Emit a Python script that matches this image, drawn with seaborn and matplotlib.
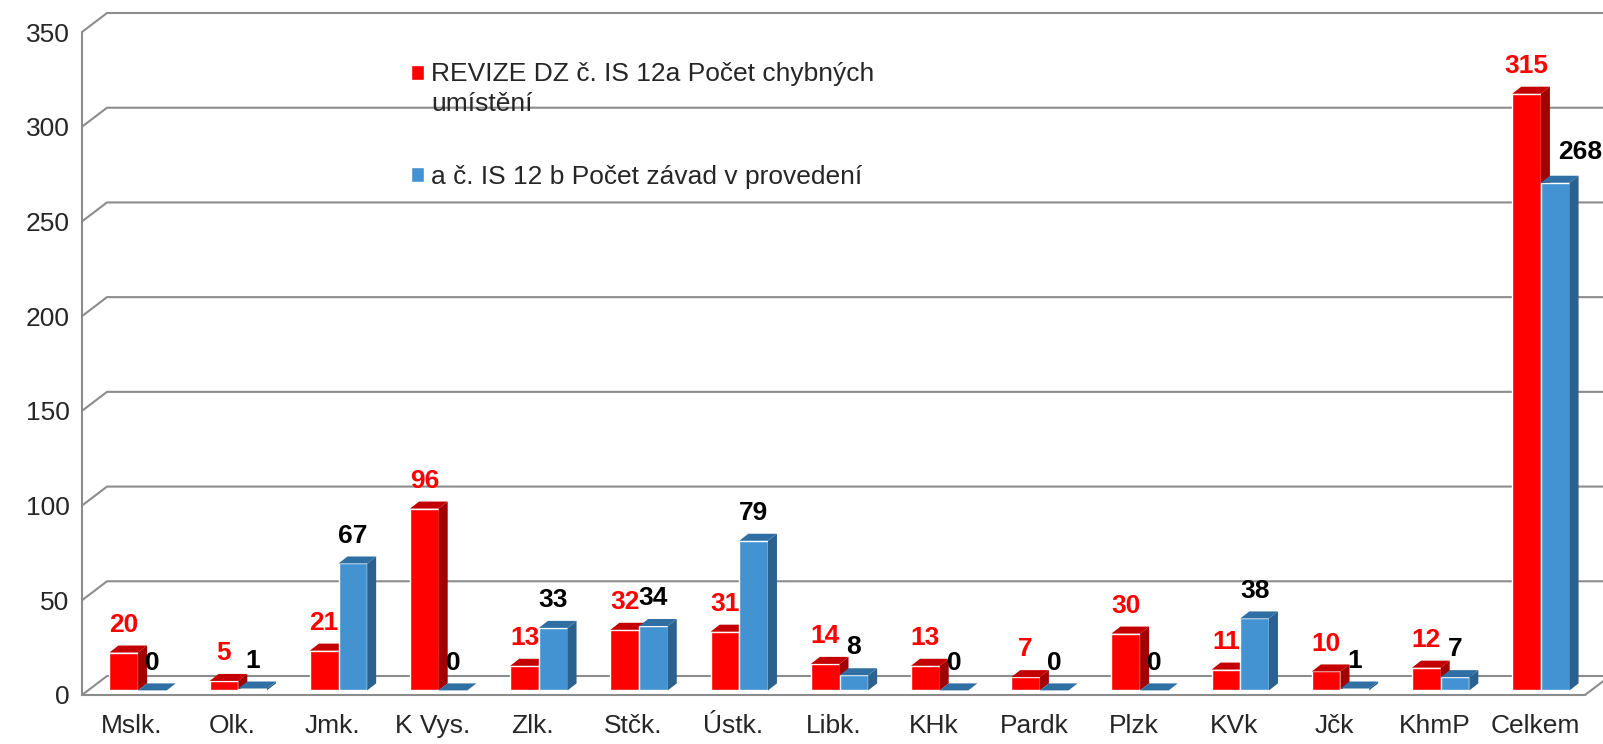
#!/usr/bin/env python3
"""
Revize DZ: počet chybných umístění a počet závad v provedení podle krajů.
Sloupcový graf s napodobeným 3D vzhledem (stěny, boční a horní plochy sloupců).
"""

import matplotlib
matplotlib.use("Agg")
import pandas as pd
import matplotlib.pyplot as plt
import seaborn as sns
from matplotlib.patches import Polygon, Patch, Rectangle
from matplotlib.legend_handler import HandlerPatch

# Data
kraje = ["Mslk.", "Olk.", "Jmk.", "K Vys.", "Zlk.", "Stčk.", "Ústk.", "Libk.",
         "KHk", "Pardk", "Plzk", "KVk", "Jčk", "KhmP", "Celkem"]
chybna_umisteni = [20, 5, 21, 96, 13, 32, 31, 14, 13, 7, 30, 11, 10, 12, 315]
zavady_provedeni = [0, 1, 67, 0, 33, 34, 79, 8, 0, 0, 0, 38, 1, 7, 268]
serie = ["REVIZE DZ č. IS 12a Počet chybných\numístění",
         "a č. IS 12 b Počet závad v provedení"]
y_ticks = [0, 50, 100, 150, 200, 250, 300, 350]

# Barvy
CERVENA = "#ff0000"
MODRA = "#4393d3"
CERVENA_BOK, CERVENA_VRCH = "#a30000", "#c40000"
MODRA_BOK, MODRA_VRCH = "#2b618f", "#2f6fa3"
SEDA = "#8c8c8c"
PISMO = 19

W, H = 1603, 744
sns.set_style("white")
plt.rcParams['font.family'] = ['Liberation Sans', 'DejaVu Sans']

fig = plt.figure(figsize=(W / 100, H / 100), dpi=100)
# přední rovina grafu v pixelech
x_lev, x_prav, y_dole, y_nahore = 82, 1585, 695, 32
ax = fig.add_axes([x_lev / W, (H - y_dole) / H,
                   (x_prav - x_lev) / W, (y_dole - y_nahore) / H])

df = pd.DataFrame({
    "kraj": kraje * 2,
    "pocet": chybna_umisteni + zavady_provedeni,
    "serie": [serie[0]] * len(kraje) + [serie[1]] * len(kraje),
})

sns.barplot(data=df, x="kraj", y="pocet", hue="serie", palette=[CERVENA, MODRA],
            width=0.572, gap=0, saturation=1, legend=False, ax=ax)

n = len(kraje)
ax.set_xlim(-0.5, n - 0.5)
ax.set_ylim(0, 350)

# převod pixelů na jednotky dat
px_x = (x_prav - x_lev) / n
px_y = (y_dole - y_nahore) / 350
stena_dx, stena_dy = 25 / px_x, 19 / px_y      # hloubka stěn
posun_dx, posun_dy = 6 / px_x, 4.6 / px_y      # posun sloupců dovnitř
hloubka_dx, hloubka_dy = 9 / px_x, 7 / px_y    # hloubka sloupců

# Zadní stěna - mřížka
for v in y_ticks:
    ax.plot([-0.5, -0.5 + stena_dx, n - 0.5 + stena_dx],
            [v, v + stena_dy, v + stena_dy],
            color=SEDA, lw=1.5, clip_on=False, zorder=0.5)
ax.plot([n - 0.5, n - 0.5 + stena_dx], [0, stena_dy],
        color=SEDA, lw=1.5, clip_on=False, zorder=0.5)

# ruční posun popisku (jako v originále, aby nezakrýval sloupec)
posun_popisku = {("Celkem", 1): (18, 22)}

# 3D sloupce
styly = [(CERVENA_BOK, CERVENA_VRCH, CERVENA, 2), (MODRA_BOK, MODRA_VRCH, "black", 3)]
for i, (cont, hodnoty, (bok, vrch, barva_txt, z)) in enumerate(zip(
        ax.containers, [chybna_umisteni, zavady_provedeni], styly)):
    for kraj, bar, v in zip(kraje, cont, hodnoty):
        x0 = bar.get_x() + posun_dx
        w = bar.get_width()
        bar.set_x(x0)
        bar.set_y(posun_dy)
        bar.set_zorder(z)
        y0, y1 = posun_dy, posun_dy + v
        ax.add_patch(Polygon([(x0 + w, y0), (x0 + w + hloubka_dx, y0 + hloubka_dy),
                              (x0 + w + hloubka_dx, y1 + hloubka_dy), (x0 + w, y1)],
                             closed=True, facecolor=bok, edgecolor="none",
                             zorder=z + 0.1, clip_on=False))
        ax.add_patch(Polygon([(x0, y1), (x0 + hloubka_dx, y1 + hloubka_dy),
                              (x0 + w + hloubka_dx, y1 + hloubka_dy), (x0 + w, y1)],
                             closed=True, facecolor=vrch, edgecolor="none",
                             zorder=z + 0.1, clip_on=False))
        ax.annotate(str(v), (x0 + w / 2, y1),
                    xytext=posun_popisku.get((kraj, i), (0, 20)),
                    textcoords="offset points", ha="center", va="center",
                    fontsize=PISMO, fontweight="bold", color=barva_txt,
                    annotation_clip=False, zorder=5)

# Osy
ax.set_xlabel("")
ax.set_ylabel("")
ax.set_xticks([i - 0.5 for i in range(n + 1)], labels=[""] * (n + 1))
ax.set_xticks(range(n), labels=kraje, minor=True)
ax.tick_params(axis="x", which="major", length=7, width=1.5, color=SEDA)
ax.tick_params(axis="x", which="minor", length=0, pad=14, labelsize=PISMO)
ax.set_yticks(y_ticks)
ax.tick_params(axis="y", length=6, width=1.5, color=SEDA, pad=3, labelsize=PISMO)
for s in ["top", "right"]:
    ax.spines[s].set_visible(False)
for s in ["left", "bottom"]:
    ax.spines[s].set_color(SEDA)
    ax.spines[s].set_linewidth(1.5)


# Legenda - značka první položky u prvního řádku textu
def znacka_nahore(legend, orig_handle, xdescent, ydescent, width, height, fontsize):
    return Rectangle((-xdescent, -ydescent + 0.62 * fontsize), width, height)


handles = [Patch(facecolor=CERVENA), Patch(facecolor=MODRA)]
leg = ax.legend(handles, serie, loc="upper left",
                bbox_to_anchor=(411 / W, 1 - 62 / H), bbox_transform=fig.transFigure,
                frameon=False, fontsize=PISMO, handlelength=0.5, handleheight=0.5,
                handletextpad=0.25, labelspacing=1.87, borderpad=0, borderaxespad=0,
                handler_map={handles[0]: HandlerPatch(patch_func=znacka_nahore)})
for t in leg.get_texts():
    t.set_linespacing(1.29)

fig.savefig("out.png", dpi=100)
print("Graf uložen do out.png")
